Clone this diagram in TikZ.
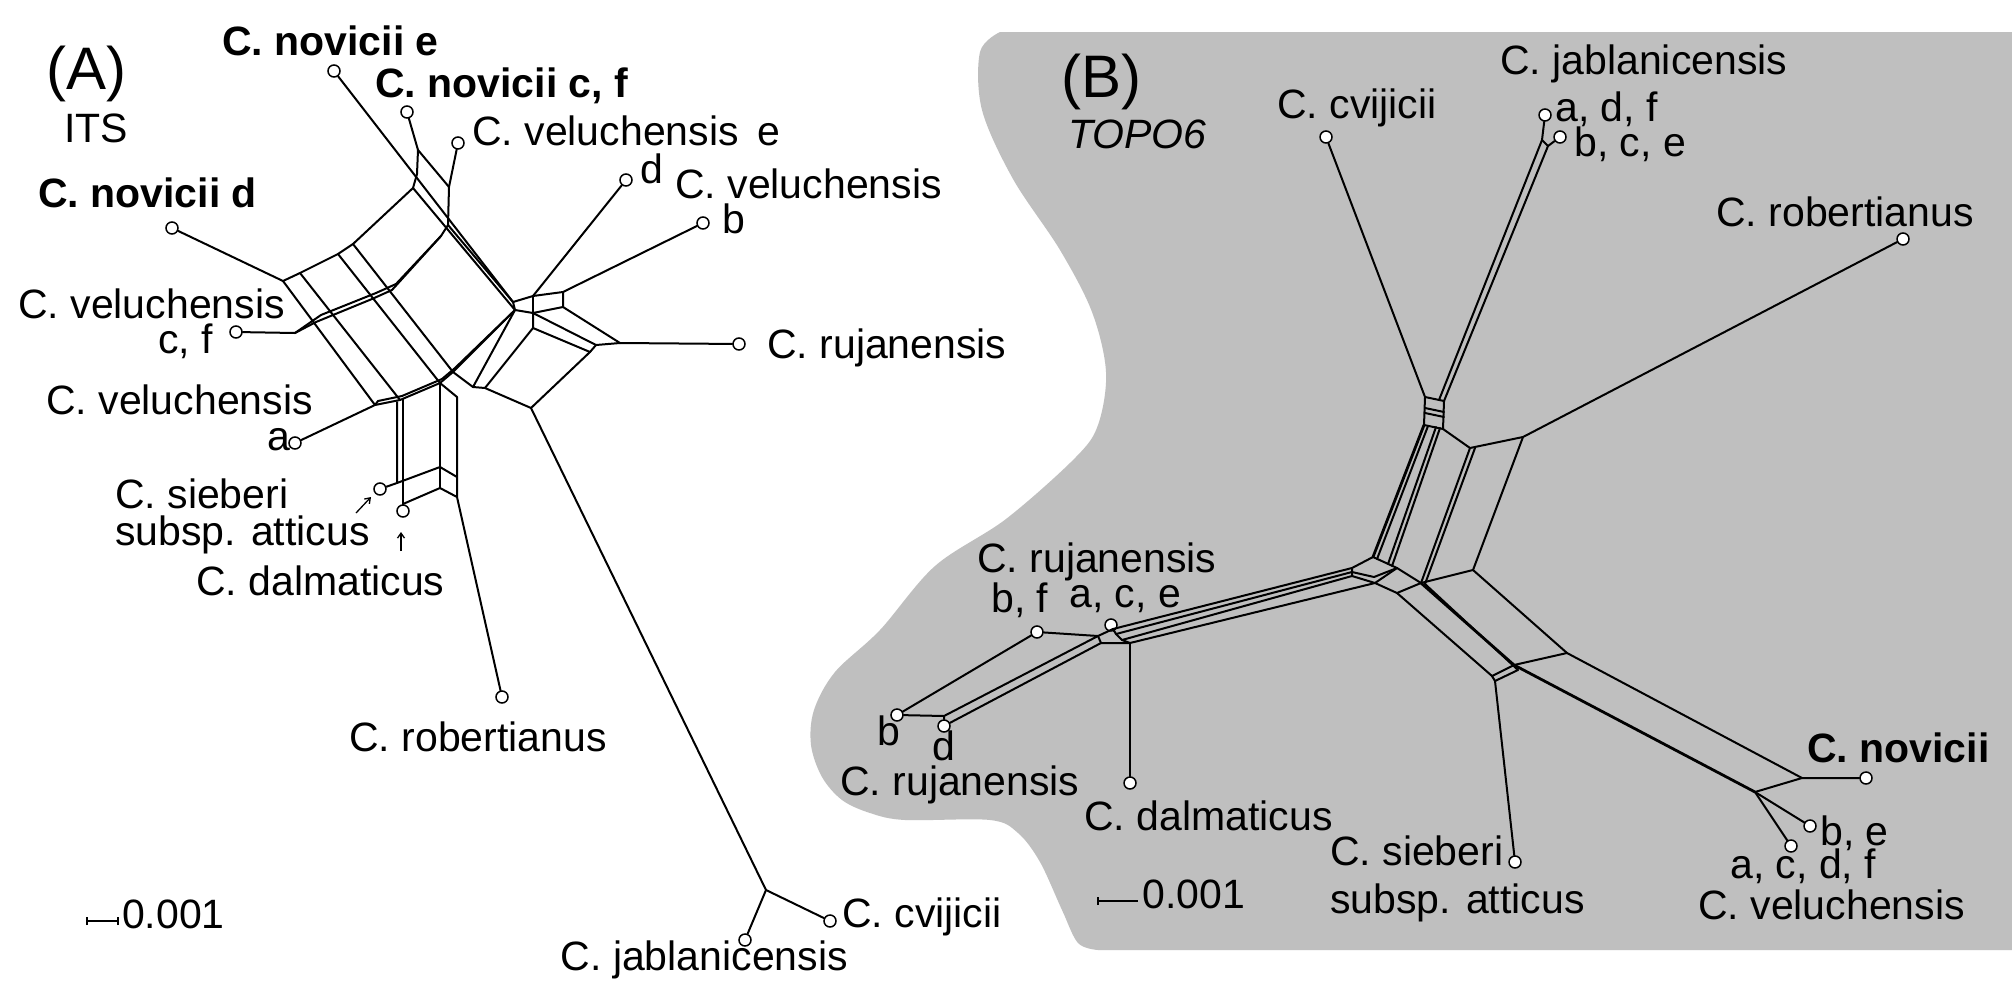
\documentclass[tikz,border=0pt]{standalone}
\usepackage{fontspec}
\setmainfont{Liberation Sans}
\usetikzlibrary{arrows.meta}
\definecolor{bggray}{RGB}{191,191,191}
\begin{document}
\begin{tikzpicture}[x=1pt,y=-1pt,
  lbl/.style={inner sep=0pt,anchor=base west,font=\fontsize{41}{49}\selectfont},
  lble/.style={inner sep=0pt,anchor=base east,font=\fontsize{41}{49}\selectfont},
  blbl/.style={inner sep=0pt,anchor=base west,font=\fontsize{41}{49}\selectfont\bfseries},
  panel/.style={inner sep=0pt,anchor=base west,font=\fontsize{60}{72}\selectfont},
  net/.style={line width=2pt,line join=round,line cap=round},
  thick net/.style={line width=2.8pt,line join=round,line cap=round},
  leaf/.style={circle,draw,fill=white,line width=1.5pt,inner sep=0pt,minimum size=12pt},
  sbar/.style={line width=1.3pt},
  pointer/.style={line width=1.3pt,-{Straight Barb[length=5pt,width=7pt]}}
]
\useasboundingbox (0,0) rectangle (2012,1001);
\fill[white] (0,0) rectangle (2012,1001);
% ---------- background of panel B ----------
\fill[bggray] plot[smooth,tension=0.55] coordinates {(1000,32) (980,52) (982,110) (1013,179) (1060,250) (1092,312) (1106,372) (1098,425) (1075,458) (1006,519) (935,566) (880,630) (835,672) (814,710) (811,745) (822,777) (842,800) (870,813) (905,820) (990,820) (1018,833) (1040,862) (1062,910) (1078,943) (1098,950)} -- (2012,950) -- (2012,32) -- cycle;

% ================= PANEL A =================
\node[leaf] (nE) at (334,71) {};
\node[leaf] (nCF) at (407,112) {};
\node[leaf] (vE) at (458,143) {};
\node[leaf] (vD) at (626,180) {};
\node[leaf] (vB) at (703,223) {};
\node[leaf] (ruA) at (739,344) {};
\node[leaf] (nD) at (172,228) {};
\node[leaf] (vCF) at (236,332) {};
\node[leaf] (vA) at (295,443) {};
\node[leaf] (siA) at (380,489) {};
\node[leaf] (daA) at (403,511) {};
\node[leaf] (roA) at (502,697) {};
\node[leaf] (jaA) at (745,940) {};
\node[leaf] (cvA) at (830,921) {};

\coordinate (A1) at (283,281);
\coordinate (A2) at (300,273);
\coordinate (A3) at (338,254);
\coordinate (A4) at (353,244);
\coordinate (A5) at (413,188);
\coordinate (A6) at (417,174);
\coordinate (A7) at (418,150);
\coordinate (E1) at (449,187);
\coordinate (E2) at (448,225);
\coordinate (E3) at (441,236);
\coordinate (B1) at (375,405);
\coordinate (B2) at (400,400);
\coordinate (B3) at (440,383);
\coordinate (B4) at (453,372);
\coordinate (H1) at (378,401);
\coordinate (H2) at (402,396);
\coordinate (H3) at (442,379);
\coordinate (H4) at (455,368);
\coordinate (C1) at (513,302);
\coordinate (C2) at (523,299);
\coordinate (C3) at (533,296);
\coordinate (C4) at (563,292);
\coordinate (C5) at (563,307);
\coordinate (C6) at (533,313);
\coordinate (C7) at (515,310);
\coordinate (F0) at (295,333);
\coordinate (F1) at (316,322);
\coordinate (F2) at (372,299);
\coordinate (F3) at (392,290);
\coordinate (G1) at (321,315);
\coordinate (G2) at (376,293);
\coordinate (G3) at (396,284);
\coordinate (Q4) at (473,387);
\coordinate (Q5) at (485,388);
\coordinate (Q3) at (531,408);
\coordinate (D1) at (533,328);
\coordinate (Q2) at (590,352);
\coordinate (Q2b) at (596,345);
\coordinate (RN) at (620,343);
\coordinate (B2a) at (397,402);
\coordinate (B2b) at (403,399);
\coordinate (V1) at (397,483);
\coordinate (V2) at (403,504);
\coordinate (V3) at (457,397);
\coordinate (W1) at (440,467);
\coordinate (W2) at (457,477);
\coordinate (W3) at (440,488);
\coordinate (W4) at (457,497);
\coordinate (J) at (766,890);

\draw[net] (nE) -- (C1);
\draw[net] (nCF) -- (A7) -- (A6) -- (A5);
\draw[net] (A7) -- (E1);
\draw[net] (vE) -- (E1) -- (E2) -- (E3);
\draw[net] (E2) -- (C1);
\draw[net] (nD) -- (A1) -- (A2) -- (A3) -- (A4) -- (A5);
\draw[net] (A1) -- (B1) (A2) -- (B2) (A3) -- (B3) (A4) -- (B4) (A5) -- (C7);
\draw[net] (B1) -- (B2) -- (B3) -- (B4) -- (C7);
\draw[net] (B1) -- (H1) -- (H2) -- (H3) -- (H4) -- (C7);
\draw[net] (vCF) -- (F0) -- (F1) -- (F2) -- (F3) -- (E3);
\draw[net] (F0) -- (G1) -- (G2) -- (G3) -- (E3);
\draw[net] (vA) -- (B1);
\draw[net] (C1) -- (C2) -- (C3) -- (C4) -- (C5) -- (C6) -- (C7) -- cycle;
\draw[net] (C3) -- (C6);
\draw[net] (vD) -- (C3);
\draw[net] (vB) -- (C4);
\draw[net] (C7) -- (Q4) -- (Q5) -- (Q3) -- (Q2) -- (D1) -- (C6);
\draw[net] (D1) -- (Q5);
\draw[net] (B4) -- (Q4);
\draw[net] (C6) -- (Q2b) -- (RN) -- (C5);
\draw[net] (Q2) -- (Q2b);
\draw[net] (RN) -- (ruA);
\draw[net] (B3) -- (V3);
\draw[net] (B2a) -- (V1) -- (W1) -- (W2);
\draw[net] (B2b) -- (V2) -- (daA);
\draw[net] (V2) -- (W3) -- (W4);
\draw[net] (B3) -- (W3);
\draw[net] (V3) -- (W4) -- (roA);
\draw[net] (siA) -- (V1);
\draw[net] (Q3) -- (J) -- (jaA);
\draw[net] (J) -- (cvA);

\coordinate (p1s) at (356,513);
\coordinate (p1e) at (371,497);
\coordinate (p2s) at (401,551);
\coordinate (p2e) at (401,532);
\draw[pointer] (p1s) -- (p1e);
\draw[pointer] (p2s) -- (p2e);

\coordinate (sa1) at (87,921);
\coordinate (sa2) at (118,921);
\draw[sbar] (sa1) -- (sa2);
\draw[sbar] ([yshift=-4pt]sa1) -- ([yshift=4pt]sa1);
\draw[sbar] ([yshift=-4pt]sa2) -- ([yshift=4pt]sa2);

\node[panel] (labA) at (46,89) {(A)};
\node[lbl] (its) at (64,142) {ITS};
\node[blbl] (tnE) at (222,55) {C. novicii e};
\node[blbl] (tnCF) at (375,97) {C. novicii c, f};
\node[lbl] (tvE) at (472,145) {C. veluchensis\hspace{0.45em}e};
\node[lbl] (td) at (640,183) {d};
\node[lbl] (tvDB) at (675,198) {C. veluchensis};
\node[lbl] (tb) at (722,233) {b};
\node[blbl] (tnD) at (38,207) {C. novicii d};
\node[lbl] (tvCF) at (18,318) {C. veluchensis};
\node[lbl] (tcf) at (158,353) {c, f};
\node[lbl] (tvA) at (46,414) {C. veluchensis};
\node[lbl] (ta) at (267,450) {a};
\node[lbl] (tsiA) at (115,508) {C. sieberi};
\node[lbl] (tsiA2) at (115,545) {subsp. atticus};
\node[lbl] (tdaA) at (196,595) {C. dalmaticus};
\node[lbl] (truA) at (767,358) {C. rujanensis};
\node[lbl] (troA) at (349,751) {C. robertianus};
\node[lble] (tjaA) at (848,970) {C. jablanicensis};
\node[lbl] (tcvA) at (842,927) {C. cvijicii};
\node[lbl] (tsa) at (122,928) {0.001};

% ================= PANEL B =================
\node[leaf] (cvB) at (1326,137) {};
\node[leaf] (adf) at (1545,115) {};
\node[leaf] (bce) at (1560,137) {};
\node[leaf] (roB) at (1903,239) {};
\node[leaf] (bf) at (1037,632) {};
\node[leaf] (ace) at (1111,625) {};
\node[leaf] (rb) at (897,715) {};
\node[leaf] (rd) at (944,726) {};
\node[leaf] (daB) at (1130,783) {};
\node[leaf] (siB) at (1515,862) {};
\node[leaf] (noB) at (1866,778) {};
\node[leaf] (be) at (1810,826) {};
\node[leaf] (acdf) at (1791,846) {};

\coordinate (T1) at (1425,397);
\coordinate (T2) at (1444,401);
\coordinate (T3) at (1443,429);
\coordinate (T4) at (1424,425);
\coordinate (T5) at (1425,408);
\coordinate (T6) at (1444,412);
\coordinate (T7) at (1425,413);
\coordinate (T8) at (1444,417);
\coordinate (J1) at (1542,140);
\coordinate (J2) at (1548,146);
\coordinate (J3) at (1439,400);
\coordinate (K2) at (1428,426);
\coordinate (K3) at (1436,427);
\coordinate (K4) at (1440,428);
\coordinate (M0) at (1352,568);
\coordinate (M1) at (1373,557);
\coordinate (M2) at (1377,559);
\coordinate (M3) at (1388,564);
\coordinate (M4) at (1392,566);
\coordinate (M5) at (1397,568);
\coordinate (M6) at (1375,583);
\coordinate (M7) at (1352,576);
\coordinate (Z1) at (1352,572);
\coordinate (Z3) at (1374,577);
\coordinate (R1) at (1470,448);
\coordinate (R1b) at (1475,448);
\coordinate (R2) at (1523,437);
\coordinate (N1) at (1421,583);
\coordinate (N1b) at (1425,584);
\coordinate (S1) at (1473,570);
\coordinate (S2) at (1567,653);
\coordinate (P1) at (1397,593);
\coordinate (P2) at (1492,676);
\coordinate (P2b) at (1495,681);
\coordinate (P3) at (1514,665);
\coordinate (P3b) at (1518,670);
\coordinate (X1) at (1802,778);
\coordinate (X2) at (1755,792);
\coordinate (U1) at (1098,636);
\coordinate (U2) at (1113,629);
\coordinate (U3) at (1101,643);
\coordinate (U4) at (1130,643);
\coordinate (Y1) at (1116,634);
\coordinate (Y2) at (1122,640);
\coordinate (rdT) at (944,716);

\draw[net] (cvB) -- (T1);
\draw[net] (adf) -- (J1) -- (J2) -- (bce);
\draw[net] (J1) -- (J3);
\draw[net] (J2) -- (T2);
\draw[net] (T1) -- (T2) -- (T3) -- (T4) -- cycle;
\draw[net] (T5) -- (T6) (T7) -- (T8);
\draw[thick net] (T4) -- (M1);
\draw[net] (K2) -- (M2) (K3) -- (M3) (K4) -- (M4);
\draw[net] (T3) -- (R1) -- (R2) -- (roB);
\draw[net] (R1) -- (N1);
\draw[net] (R1b) -- (N1b);
\draw[net] (R2) -- (S1) -- (N1);
\draw[net] (S1) -- (S2);
\draw[net] (M0) -- (M1) -- (M5) -- (M6) -- (M7) -- cycle;
\draw[net] (Z1) -- (Z3) -- (M5);
\draw[net] (M5) -- (N1);
\draw[net] (M6) -- (P1) -- (P2);
\draw[net] (P1) -- (N1);
\draw[thick net] (N1) -- (P3);
\draw[net] (N1b) -- (P3b);
\draw[net] (P2) -- (P3) (P2b) -- (P3b);
\draw[net] (P2) -- (P2b);
\draw[net] (P3) -- (S2);
\draw[net] (P2b) -- (siB);
\draw[net] (S2) -- (X1) -- (noB);
\draw[thick net] (P3) -- (X2);
\draw[net] (X2) -- (X1);
\draw[net] (X2) -- (be);
\draw[net] (X2) -- (acdf);
\draw[net] (ace) -- (U2);
\draw[net] (bf) -- (U1) -- (U2) -- (Y1) -- (Y2) -- (U4);
\draw[net] (U1) -- (U3) -- (U4);
\draw[net] (U2) -- (M0) (Y1) -- (Z1) (Y2) -- (M7) (U4) -- (M6);
\draw[net] (bf) -- (rb) -- (rdT);
\draw[net] (U1) -- (rdT) -- (rd);
\draw[net] (U3) -- (rd);
\draw[net] (U4) -- (daB);

\coordinate (sb1) at (1098,901);
\coordinate (sb2) at (1138,901);
\draw[sbar] (sb1) -- (sb2);
\draw[sbar] ([yshift=-4pt]sb1) -- ([yshift=4pt]sb1);

\node[panel] (labB) at (1061,97) {(B)};
\node[lbl,font=\fontsize{41}{49}\selectfont\itshape] (topo) at (1068,148) {TOPO6};
\node[lbl] (tcvB) at (1277,118) {C. cvijicii};
\node[lbl] (tjaB) at (1500,74) {C. jablanicensis};
\node[lbl] (tadf) at (1555,121) {a, d, f};
\node[lbl] (tbce) at (1574,156) {b, c, e};
\node[lbl] (troB) at (1716,226) {C. robertianus};
\node[lbl] (truB1) at (977,572) {C. rujanensis};
\node[lbl] (tbf) at (991,612) {b, f};
\node[lbl] (tace) at (1069,607) {a, c, e};
\node[lbl] (trb) at (877,745) {b};
\node[lbl] (trd) at (932,760) {d};
\node[lbl] (truB2) at (840,795) {C. rujanensis};
\node[lbl] (tdaB) at (1084,830) {C. dalmaticus};
\node[lbl] (tsiB) at (1330,865) {C. sieberi};
\node[lbl] (tsiB2) at (1330,913) {subsp. atticus};
\node[blbl] (tnoB) at (1807,762) {C. novicii};
\node[lbl] (tbe) at (1820,845) {b, e};
\node[lbl] (tacdf) at (1730,878) {a, c, d, f};
\node[lbl] (tvB) at (1698,919) {C. veluchensis};
\node[lbl] (tsb) at (1142,908) {0.001};
\end{tikzpicture}
\end{document}
